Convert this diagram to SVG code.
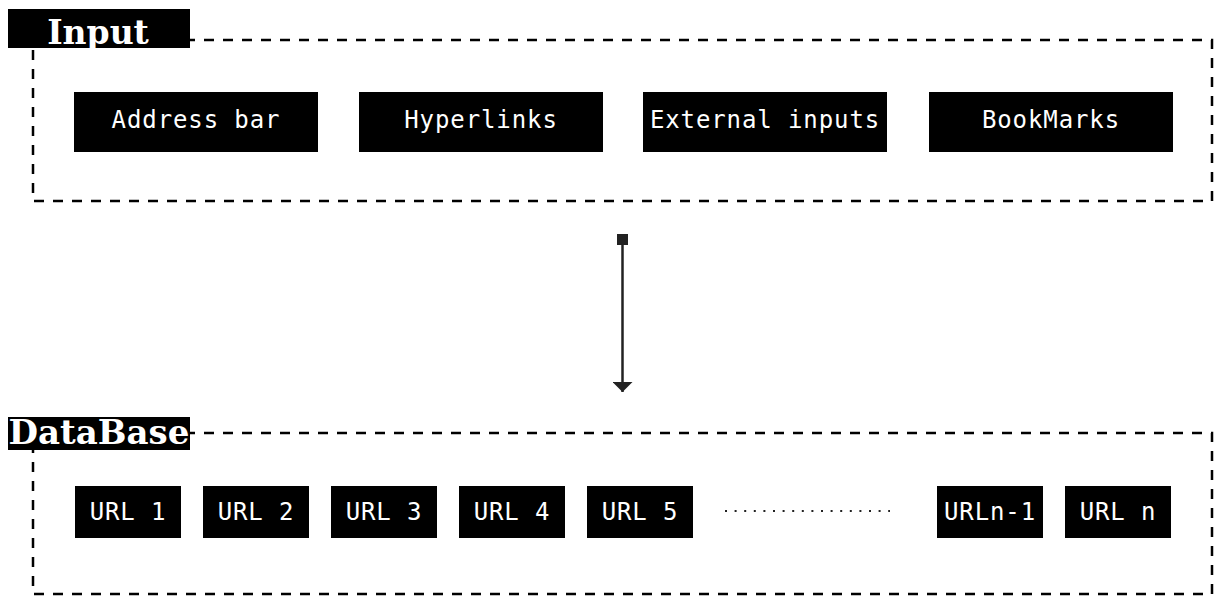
<svg xmlns="http://www.w3.org/2000/svg" width="1219" height="606" viewBox="0 0 1219 606">
<defs>
<style>
.frame{fill:none;stroke:#000;stroke-width:2.5;stroke-dasharray:10 9}
.box{fill:#000}
.lbl{fill:#fff;font-family:"DejaVu Sans Mono","Liberation Mono",monospace;font-size:24px;letter-spacing:0.9px;text-anchor:middle}
.title{fill:#fff;font-family:"DejaVu Serif","Liberation Serif",serif;font-weight:bold;text-anchor:middle}
.conn{stroke:#222;stroke-width:2.5;fill:none}
.dots{stroke:#222;stroke-width:2;stroke-dasharray:2 7.6;fill:none}
</style>
<marker id="sq" markerWidth="11" markerHeight="11" refX="5.5" refY="5.5" markerUnits="userSpaceOnUse" orient="auto">
<rect x="0" y="0" width="11" height="11" fill="#222"/>
</marker>
<marker id="tri" markerWidth="20" markerHeight="11" refX="10" refY="10" markerUnits="userSpaceOnUse" orient="0">
<path d="M0,0 L20,0 L10,10 Z" fill="#222"/>
</marker>
</defs>
<g id="input-group">
<rect class="frame" x="33" y="40" width="1179" height="161"/>
<rect class="box" x="8" y="9" width="182" height="39"/>
<text class="title" x="98" y="44" font-size="33">Input</text>
</g>
<g id="address-bar"><rect class="box" x="74" y="92" width="244" height="60"/><text class="lbl" x="196" y="128">Address bar</text></g>
<g id="hyperlinks"><rect class="box" x="359" y="92" width="244" height="60"/><text class="lbl" x="481" y="128">Hyperlinks</text></g>
<g id="external-inputs"><rect class="box" x="643" y="92" width="244" height="60"/><text class="lbl" x="765" y="128">External inputs</text></g>
<g id="bookmarks"><rect class="box" x="929" y="92" width="244" height="60"/><text class="lbl" x="1051" y="128">BookMarks</text></g>
<g id="connectors">
<line class="conn" x1="622.5" y1="239.5" x2="622.5" y2="392" marker-start="url(#sq)" marker-end="url(#tri)"/>
</g>
<g id="database-group">
<rect class="frame" x="33" y="433" width="1179" height="161"/>
<rect class="box" x="8" y="417" width="182" height="33"/>
<text class="title" x="99" y="444" font-size="34">DataBase</text>
</g>
<g id="url1"><rect class="box" x="75" y="486" width="106" height="52"/><text class="lbl" x="128" y="520">URL 1</text></g>
<g id="url2"><rect class="box" x="203" y="486" width="106" height="52"/><text class="lbl" x="256" y="520">URL 2</text></g>
<g id="url3"><rect class="box" x="331" y="486" width="106" height="52"/><text class="lbl" x="384" y="520">URL 3</text></g>
<g id="url4"><rect class="box" x="459" y="486" width="106" height="52"/><text class="lbl" x="512" y="520">URL 4</text></g>
<g id="url5"><rect class="box" x="587" y="486" width="106" height="52"/><text class="lbl" x="640" y="520">URL 5</text></g>
<g id="ellipsis"><line class="dots" x1="725" y1="511" x2="890" y2="511"/></g>
<g id="urln-1"><rect class="box" x="937" y="486" width="106" height="52"/><text class="lbl" x="990" y="520">URLn-1</text></g>
<g id="urln"><rect class="box" x="1065" y="486" width="106" height="52"/><text class="lbl" x="1118" y="520">URL n</text></g>
</svg>
